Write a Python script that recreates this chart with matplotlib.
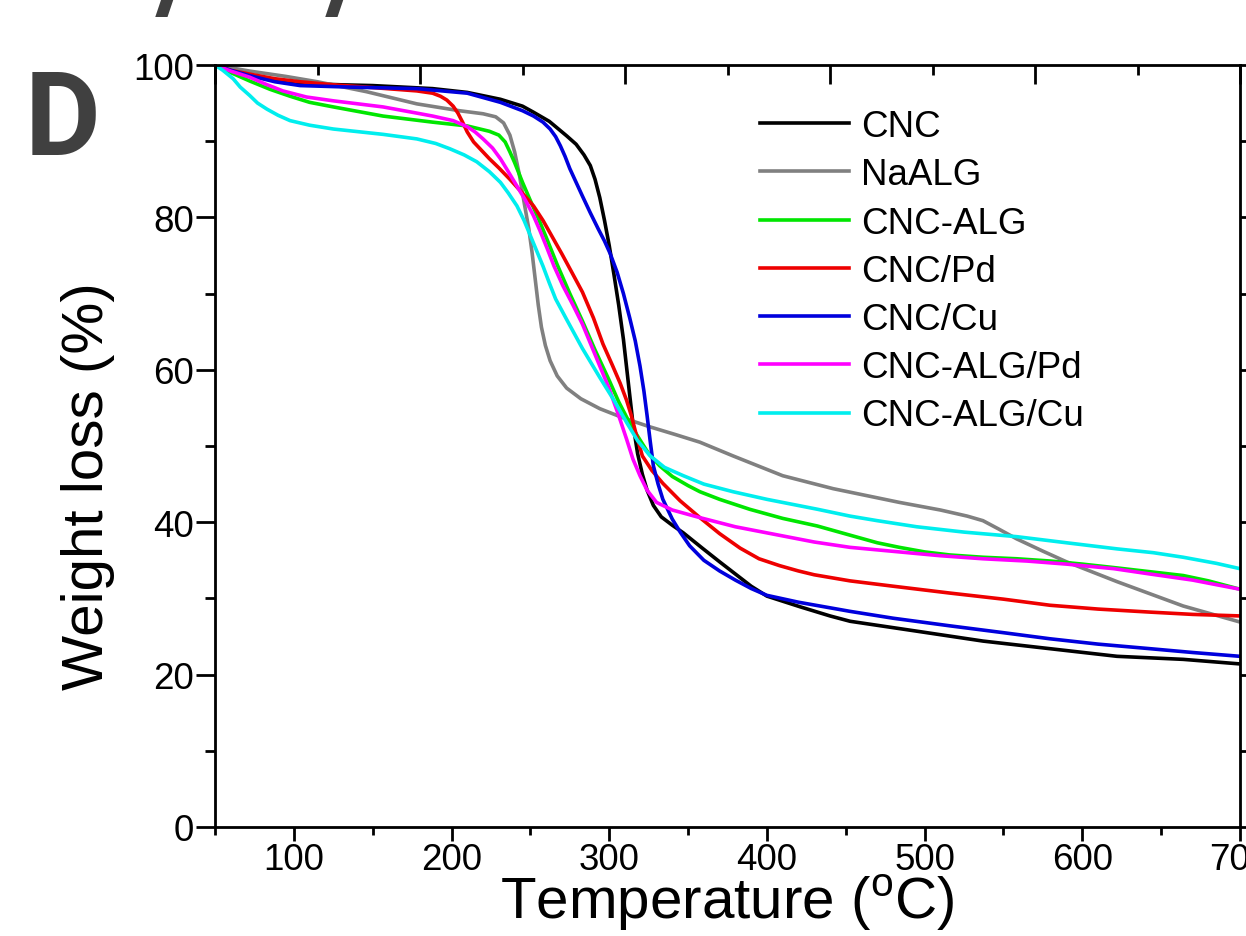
import matplotlib
matplotlib.use("Agg")
import matplotlib.pyplot as plt
from matplotlib.ticker import MultipleLocator

plt.rcParams['font.family'] = ['Liberation Sans', 'DejaVu Sans']
plt.rcParams['mathtext.fontset'] = 'custom'
plt.rcParams['mathtext.rm'] = 'Liberation Sans'

# TGA curves: temperature (C) and remaining weight (%)
cnc_t = [50, 60, 72, 85, 104, 130, 150, 188, 210, 231, 245, 252, 262, 273, 279, 284, 288,
         291, 294, 297, 300, 303, 306, 309, 312, 315, 318, 321, 324, 328, 333, 340, 347,
         359, 370, 380, 390, 400, 421, 440, 452.7, 495, 537, 579.5, 622, 664, 700]
cnc_w = [100, 99.2, 98.6, 98.1, 97.6, 97.4, 97.3, 96.9, 96.4, 95.5, 94.6, 93.8, 92.6, 90.7, 89.6, 88.2, 86.8,
         85.0, 82.6, 79.6, 76.3, 72.5, 68.5, 64.0, 58.5, 53.0, 49.0, 46.3, 44.2, 42.2, 40.7, 39.6, 38.6,
         36.6, 34.8, 33.2, 31.6, 30.3, 28.9, 27.7, 27.0, 25.7, 24.4, 23.4, 22.4, 22.0, 21.4]

naalg_t = [50, 72, 95, 115, 146, 178, 205, 220, 228, 233, 237, 240, 243, 246, 249, 251, 253,
           255, 257, 259.5, 262.5, 267, 273, 282, 294, 310, 326, 342, 357.5, 378.5, 410, 442,
           484, 510, 527, 537, 547, 558.5, 575, 590, 622, 664, 700]
naalg_w = [100, 99.2, 98.5, 97.8, 96.5, 94.9, 94.0, 93.6, 93.2, 92.4, 90.8, 88.6, 85.6, 82.0, 78.5, 75.5, 72.0,
           68.5, 65.6, 63.2, 61.2, 59.2, 57.6, 56.2, 54.9, 53.6, 52.5, 51.5, 50.5, 48.7, 46.1, 44.4,
           42.6, 41.6, 40.8, 40.2, 39.1, 37.8, 36.2, 34.8, 32.2, 29.0, 26.9]

cncalg_t = [50, 60, 72, 85, 97.6, 110, 125, 156.5, 188, 210, 224, 230, 234, 237, 240, 245, 250,
            255, 260, 267, 275, 283, 291, 300, 306, 311, 315, 319.5, 325, 332, 340, 350, 357.5,
            370, 389, 410, 432, 452.7, 470, 484, 500, 516, 537, 558.5, 580, 600, 622, 643, 664,
            680, 700]
cncalg_w = [100, 99.0, 97.9, 96.8, 95.9, 95.1, 94.5, 93.3, 92.5, 92.0, 91.3, 90.8, 89.9, 88.6, 87.2, 84.6, 82.2,
            79.9, 77.4, 73.8, 70.0, 66.4, 62.6, 58.6, 55.8, 53.8, 52.3, 50.8, 49.0, 47.4, 46.0, 44.8, 44.0,
            43.0, 41.7, 40.5, 39.5, 38.3, 37.3, 36.7, 36.1, 35.7, 35.4, 35.2, 34.9, 34.5, 34.0, 33.5, 33.0,
            32.3, 31.2]

cncpd_t = [50, 60, 72, 88, 104, 125, 146, 178, 188, 193, 197, 201, 204, 207, 210, 214, 219,
           224, 230, 237, 244, 252, 258, 264, 270, 276, 283, 290, 296, 302, 307, 311, 314, 317,
           321, 327, 334, 345, 357.5, 370, 383, 395, 408, 420, 430, 452.7, 480, 516, 550, 579.5,
           610, 643, 670, 700]
cncpd_w = [100, 99.3, 98.8, 98.2, 97.8, 97.4, 97.1, 96.6, 96.3, 95.9, 95.4, 94.6, 93.7, 92.5, 91.2, 89.9, 88.8,
           87.7, 86.5, 85.0, 83.4, 81.5, 79.6, 77.4, 75.2, 72.9, 70.2, 66.8, 63.4, 60.6, 58.2, 56.0, 54.0, 51.6,
           48.7, 46.8, 45.1, 42.8, 40.6, 38.5, 36.6, 35.2, 34.3, 33.6, 33.1, 32.3, 31.6, 30.7, 29.9, 29.1,
           28.6, 28.2, 27.9, 27.7]

cnccu_t = [50, 60, 72, 88, 104, 135.6, 178, 210, 231, 245, 252, 258, 262.5, 266, 269, 272, 275,
           279, 283, 288, 293, 297, 300.5, 305, 309, 313, 316.5, 319.5, 322, 324, 326, 328, 331,
           334, 340, 345, 351, 360, 370, 380, 390, 400, 420, 452.7, 480, 516, 550, 579.5, 610,
           643, 670, 700]
cnccu_w = [100, 99.3, 98.6, 97.8, 97.3, 97.1, 96.9, 96.3, 95.1, 94.0, 93.3, 92.5, 91.6, 90.6, 89.4, 88.0, 86.4,
           84.6, 82.8, 80.6, 78.5, 76.9, 75.3, 72.8, 70.0, 66.8, 63.8, 60.5, 57.2, 54.0, 50.6, 47.4, 45.0,
           43.0, 40.4, 38.7, 36.9, 35.0, 33.6, 32.4, 31.3, 30.4, 29.5, 28.3, 27.4, 26.4, 25.5, 24.7, 24.0,
           23.4, 22.9, 22.4]

algpd_t = [50, 60, 72, 82, 93, 108, 125, 156.5, 175, 188, 201, 210, 215, 220, 226, 231, 236,
           241.5, 247, 252, 256, 260.5, 265, 270.7, 277, 283, 291, 300, 306, 311, 315, 319.5, 324,
           330, 340, 357.5, 380, 410, 430, 452.7, 484, 510, 537, 565, 590, 620, 643, 670, 700]
algpd_w = [100, 99.2, 98.4, 97.5, 96.6, 95.8, 95.3, 94.5, 93.8, 93.3, 92.7, 91.9, 91.2, 90.3, 89.1, 87.7, 86.0,
           84.1, 82.2, 80.2, 78.3, 76.0, 73.6, 71.0, 68.5, 66.0, 62.0, 57.5, 54.0, 50.9, 48.3, 46.1, 44.2,
           42.6, 41.6, 40.6, 39.4, 38.2, 37.4, 36.7, 36.1, 35.6, 35.2, 34.9, 34.5, 33.9, 33.2, 32.4, 31.2]

algcu_t = [50, 55, 61.5, 66, 72, 77, 83, 90, 97.6, 110, 125, 156.5, 178, 190, 199, 208, 216,
           224, 231, 236, 241.5, 246, 250, 254, 258, 262, 266, 273, 283, 294, 303, 311, 318, 326,
           335, 347, 360, 378.5, 400, 432, 452.7, 470, 495, 525, 558.5, 590, 622, 645, 664, 685, 700]
algcu_w = [100, 99.3, 98.2, 97.1, 96.0, 95.0, 94.2, 93.4, 92.7, 92.1, 91.6, 90.9, 90.3, 89.7, 89.0, 88.2, 87.3,
           86.0, 84.6, 83.2, 81.5, 79.6, 77.6, 75.6, 73.6, 71.4, 69.3, 66.6, 62.8, 59.0, 56.0, 53.1, 50.7, 48.7,
           47.2, 46.1, 45.0, 44.0, 43.0, 41.7, 40.8, 40.2, 39.4, 38.7, 38.1, 37.3, 36.5, 36.0, 35.4, 34.6, 33.9]

labels = ['CNC', 'NaALG', 'CNC-ALG', 'CNC/Pd', 'CNC/Cu', 'CNC-ALG/Pd', 'CNC-ALG/Cu']
colors = ['#000000', '#808080', '#00e600', '#ee0000', '#0000dd', '#ff00ff', '#00eeee']
series = [(cnc_t, cnc_w), (naalg_t, naalg_w), (cncalg_t, cncalg_w), (cncpd_t, cncpd_w),
          (cnccu_t, cnccu_w), (algpd_t, algpd_w), (algcu_t, algcu_w)]

W, H = 1246, 937
fig = plt.figure(figsize=(W / 100, H / 100), dpi=100)
ax = fig.add_axes([215 / W, 1 - 828 / H, 1025 / W, 762 / H])

for (t, w), lab, c in zip(series, labels, colors):
    ax.plot(t, w, color=c, lw=2.6, label=lab, solid_joinstyle='round')

ax.set_xlim(50, 700)
ax.set_ylim(0, 100)
ax.xaxis.set_major_locator(MultipleLocator(100))
ax.xaxis.set_minor_locator(MultipleLocator(50))
ax.yaxis.set_major_locator(MultipleLocator(20))
ax.yaxis.set_minor_locator(MultipleLocator(10))
ax.tick_params(axis='both', which='both', labelsize=26.5, width=2, pad=1,
               top=False, right=True, direction='out')
ax.tick_params(axis='y', which='major', length=14)
ax.tick_params(axis='y', which='minor', length=7)
ax.tick_params(axis='x', which='major', length=10)
ax.tick_params(axis='x', which='minor', length=6)
ax.tick_params(axis='y', which='both', right=True, labelright=False)
for sp in ax.spines.values():
    sp.set_linewidth(2)

# right ticks point inward, left ticks outward
for tk in ax.yaxis.get_major_ticks() + ax.yaxis.get_minor_ticks():
    tk.tick2line.set_marker(matplotlib.lines.TICKRIGHT)

# top axis carries its own unlabelled inward ticks
top = ax.twiny()
top.set_xlim(0, 10)
top.xaxis.set_major_locator(MultipleLocator(2))
top.xaxis.set_minor_locator(MultipleLocator(1))
top.tick_params(axis='x', which='both', direction='in', width=2, labeltop=False)
top.tick_params(axis='x', which='major', length=14)
top.tick_params(axis='x', which='minor', length=7)

ax.set_xlabel('Temperature ($^{\\rm o}$C)', fontsize=42)
ax.xaxis.set_label_coords(0.4995, -0.058)
ax.set_ylabel('Weight loss (%)', fontsize=42)
ax.yaxis.label.set_va('center')
ax.yaxis.set_label_coords(-0.124, 0.449)

ax.legend(loc='upper left', bbox_to_anchor=(760 / W, 1 - 110 / H), bbox_transform=fig.transFigure,
          frameon=False, borderpad=0, borderaxespad=0, fontsize=26.5, handlelength=2.43,
          handletextpad=0.32, labelspacing=0.36)

fig.text(25 / W, 1 - 155 / H, 'D', fontsize=84, fontweight='bold', color='#404040',
         family='Roboto', va='baseline', ha='left')
# strokes of the panel heading above, cut by the top edge
for xs in (156, 326):
    fig.text(xs / W, 1 - 10 / H, '/', fontsize=84, fontweight='bold', color='#404040',
             family='Roboto', va='baseline', ha='left')

fig.savefig('out.png', dpi=100)
